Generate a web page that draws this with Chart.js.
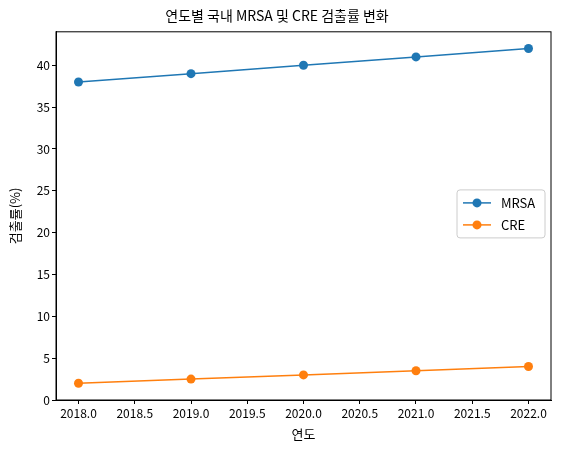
<!DOCTYPE html>
<html><head><meta charset="utf-8">
<script src="https://cdn.jsdelivr.net/npm/chart.js@4"></script>
<style>html,body{margin:0;padding:0;background:#fff}</style>
</head><body>
<div style="width:561px;height:454px"><canvas id="c"></canvas></div>
<script>
const years = [2018, 2019, 2020, 2021, 2022];
const mrsa = [38, 39, 40, 41, 42];
const cre = [2, 2.5, 3, 3.5, 4];
const seriesNames = ['MRSA', 'CRE'];
const FONT = "'Noto Sans CJK KR', 'DejaVu Sans', sans-serif";
Chart.defaults.font.family = FONT;
Chart.defaults.color = '#000';

const frame = {
  id: 'frame',
  afterDraw(ch) {
    const {ctx, chartArea: a} = ch;
    ctx.save();
    ctx.strokeStyle = '#000'; ctx.lineWidth = 1;
    ctx.strokeRect(a.left, a.top, a.right - a.left, a.bottom - a.top);
    const w = 88, h = 48;
    const x = a.right - w - 6, y = (a.top + a.bottom) / 2 - h / 2 - 2;
    ctx.fillStyle = 'rgba(255,255,255,0.8)';
    ctx.strokeStyle = '#ccc';
    ctx.beginPath(); ctx.roundRect(x, y, w, h, 3); ctx.fill(); ctx.stroke();
    ch.data.datasets.forEach((d, i) => {
      const yy = y + 13 + i * 22;
      ctx.strokeStyle = d.borderColor; ctx.lineWidth = 1.5;
      ctx.beginPath(); ctx.moveTo(x + 6, yy); ctx.lineTo(x + 34, yy); ctx.stroke();
      ctx.fillStyle = d.borderColor;
      ctx.beginPath(); ctx.arc(x + 20, yy, 4.5, 0, Math.PI * 2); ctx.fill();
      ctx.fillStyle = '#000'; ctx.font = '13px ' + FONT; ctx.textBaseline = 'middle';
      ctx.fillText(d.label, x + 44, yy);
    });
    ctx.restore();
  }
};

new Chart(document.getElementById('c'), {
  type: 'line',
  data: {
    datasets: [
      {label: seriesNames[0], data: years.map((y, i) => ({x: y, y: mrsa[i]})), borderColor: '#1f77b4', backgroundColor: '#1f77b4', borderWidth: 1.5, pointRadius: 4.5, pointBorderWidth: 0},
      {label: seriesNames[1], data: years.map((y, i) => ({x: y, y: cre[i]})), borderColor: '#ff7f0e', backgroundColor: '#ff7f0e', borderWidth: 1.5, pointRadius: 4.5, pointBorderWidth: 0}
    ]
  },
  options: {
    responsive: true, maintainAspectRatio: false, animation: false,
    layout: {padding: {left: 3, right: 10, top: 0, bottom: 8}},
    plugins: {
      legend: {display: false}, tooltip: {enabled: false},
      title: {display: true, text: '연도별 국내 MRSA 및 CRE 검출률 변화', font: {size: 14, weight: 'normal'}, padding: {top: 7, bottom: 8}}
    },
    scales: {
      x: {
        type: 'linear', min: 2017.8, max: 2022.2,
        afterFit(s) { s.height = 46; },
        afterBuildTicks(s) { const t = []; for (let v = 2018; v <= 2022.001; v += 0.5) t.push({value: v}); s.ticks = t; },
        ticks: {callback: v => v.toFixed(1), font: {size: 12}, maxRotation: 0, padding: 2},
        grid: {drawOnChartArea: false, color: '#000', tickLength: 4},
        border: {color: '#000'},
        title: {display: true, text: '연도', font: {size: 13}, padding: {top: 0}}
      },
      y: {
        min: 0, max: 44,
        afterFit(s) { s.width = 53; },
        afterBuildTicks(s) { const t = []; for (let v = 0; v <= 40; v += 5) t.push({value: v}); s.ticks = t; },
        ticks: {font: {size: 12}, padding: 2},
        grid: {drawOnChartArea: false, color: '#000', tickLength: 4},
        border: {color: '#000'},
        title: {display: true, text: '검출률(%)', font: {size: 13}, padding: {bottom: 0}}
      }
    }
  },
  plugins: [frame]
});
</script>
</body></html>
